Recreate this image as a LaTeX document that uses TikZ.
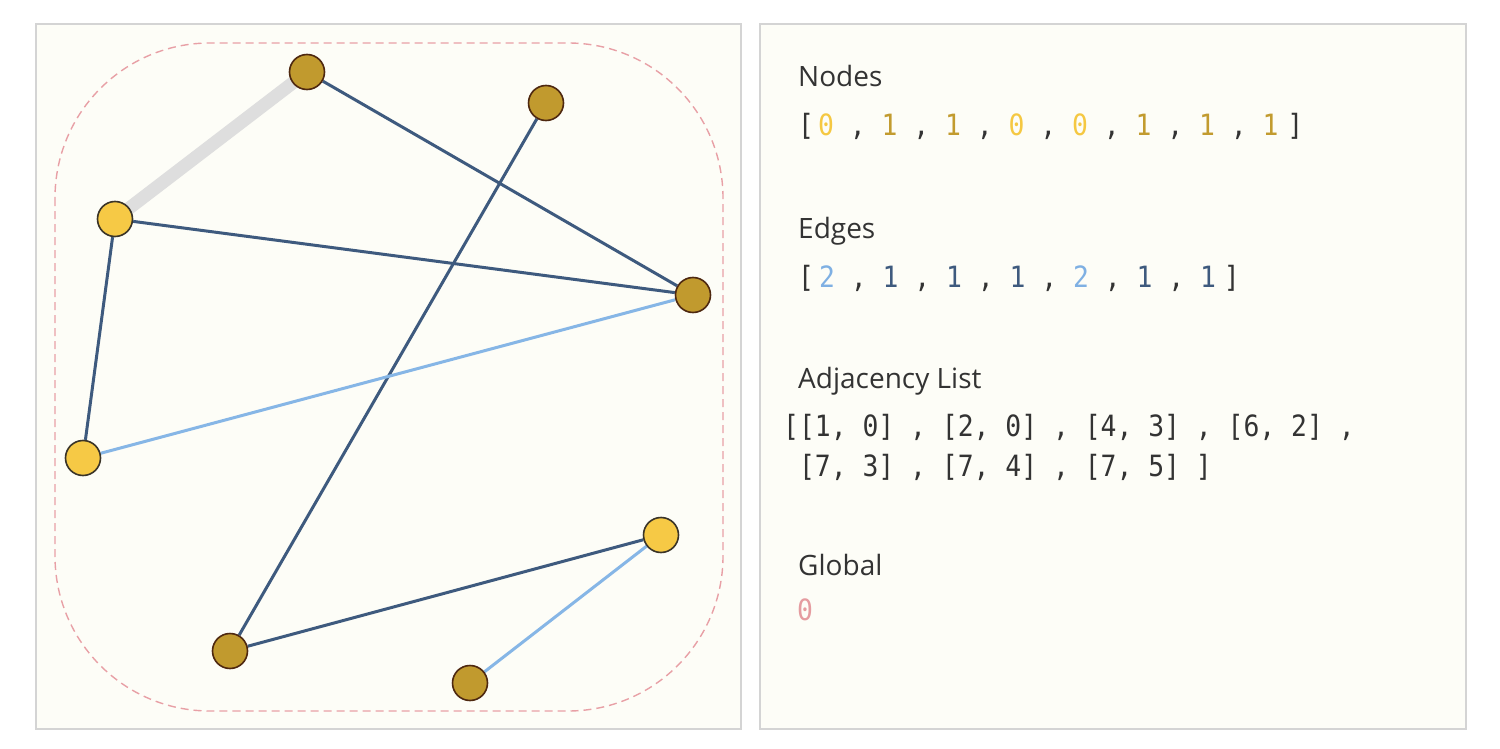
\documentclass[tikz,border=0pt]{standalone}
\usepackage{fontspec}
\setmainfont{Open Sans}
\newfontfamily\codefont{DejaVu Sans Mono}[FakeStretch=0.9]
\definecolor{panelbg}{HTML}{FDFDF7}
\definecolor{panelborder}{HTML}{D4D4D4}
\definecolor{darkgold}{HTML}{C19A2E}
\definecolor{lightgold}{HTML}{F6C945}
\definecolor{borderdark}{HTML}{4E2810}
\definecolor{borderlight}{HTML}{3A3428}
\definecolor{darkedge}{HTML}{3E5A7E}
\definecolor{lightedge}{HTML}{86B6E6}
\definecolor{hledge}{HTML}{DEDEDE}
\definecolor{pinkdash}{HTML}{E8A0A6}
\definecolor{textdark}{HTML}{333333}
\definecolor{zerocol}{HTML}{F5C842}
\definecolor{onecol}{HTML}{C29B2F}
\definecolor{twocol}{HTML}{7FB0E3}
\definecolor{edgeone}{HTML}{3E5A7E}
\definecolor{globalcol}{HTML}{E59CA0}
\pgfdeclarelayer{back}
\pgfdeclarelayer{edges}
\pgfsetlayers{back,edges,main}
\begin{document}
\begin{tikzpicture}[x=1pt,y=-1pt,
  panel/.style={draw=panelborder,fill=panelbg,line width=1.2pt},
  vtx/.style={circle,line width=1.6pt,minimum size=35pt,inner sep=0pt},
  vdark/.style={vtx,fill=darkgold,draw=borderdark},
  vlight/.style={vtx,fill=lightgold,draw=borderlight},
  edark/.style={draw=darkedge,line width=3pt},
  elight/.style={draw=lightedge,line width=3pt},
  ehl/.style={draw=hledge,line width=13pt},
  hull/.style={draw=pinkdash,line width=1.4pt,dash pattern=on 8pt off 5pt,rounded corners=155pt},
  head/.style={anchor=base west,inner sep=0pt,text=textdark,font=\fontsize{28}{34}\selectfont},
  code/.style={anchor=base west,inner sep=0pt,text=textdark,font=\codefont\fontsize{29.3}{36}\selectfont},
]
\useasboundingbox (0,0) rectangle (1500,749);

\begin{pgfonlayer}{back}
  \fill[white] (0,0) rectangle (1500,749);
  \draw[panel] (36,24) rectangle (741,729);
  \draw[panel] (760,24) rectangle (1466,729);
  \draw[hull] (55,43) rectangle (723,711);
\end{pgfonlayer}

% vertices
\node[vdark]  (A) at (307,72)  {};
\node[vdark]  (B) at (546,103) {};
\node[vlight] (C) at (115,219) {};
\node[vdark]  (D) at (693,295) {};
\node[vlight] (E) at (83,458)  {};
\node[vlight] (F) at (661,535) {};
\node[vdark]  (G) at (230,651) {};
\node[vdark]  (H) at (470,683) {};

\begin{pgfonlayer}{edges}
  \draw[ehl] (A.center) -- (C.center);
  \draw[edark] (A) -- (D);
  \draw[edark] (B) -- (G);
  \draw[edark] (C) -- (D);
  \draw[edark] (C) -- (E);
  \draw[elight] (E) -- (D);
  \draw[edark] (F) -- (G);
  \draw[elight] (F) -- (H);
\end{pgfonlayer}

% right panel text
\node[head] (nodeshead) at (798,87) {Nodes};
\node[code] (nodesval) at (798,136) {[\kern4pt{\color{zerocol}0} , {\color{onecol}1} , {\color{onecol}1} , {\color{zerocol}0} , {\color{zerocol}0} , {\color{onecol}1} , {\color{onecol}1} , {\color{onecol}1}\kern9pt]};

\node[head] (edgeshead) at (798,238) {Edges};
\node[code] (edgesval) at (798,287) {[\kern5pt{\color{twocol}2} , {\color{edgeone}1} , {\color{edgeone}1} , {\color{edgeone}1} , {\color{twocol}2} , {\color{edgeone}1} , {\color{edgeone}1}\kern8pt]};

\node[head] (adjhead) at (798,388) {Adjacency List};
\node[code] (adjrow1) at (783,436) {[[1, 0] , [2, 0] , [4, 3] , [6, 2] ,};
\node[code] (adjrow2) at (798.9,476) {[7, 3] , [7, 4] , [7, 5] ]};

\node[head] (globalhead) at (798,575) {Global};
\node[code,text=globalcol] (globalval) at (797,620) {0};
\end{tikzpicture}
\end{document}
